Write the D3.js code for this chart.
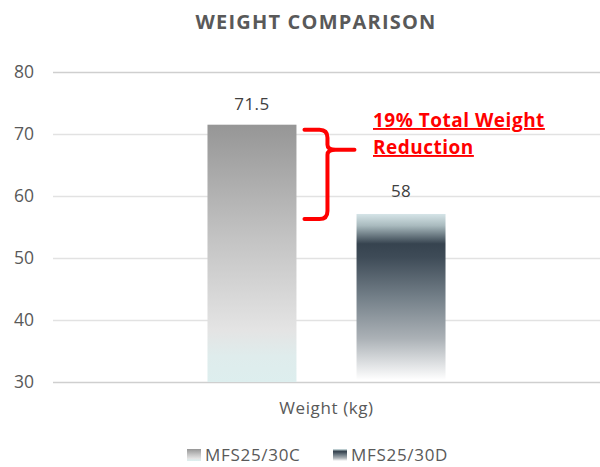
<!DOCTYPE html>
<html>
<head>
<meta charset="utf-8">
<script src="https://cdn.jsdelivr.net/npm/d3@7"></script>
<style>
  body { margin: 0; background: #fff; }
  svg { display: block; font-family: "Open Sans", sans-serif; }
</style>
</head>
<body>
<svg id="chart" width="600" height="467"></svg>
<script>
// data
const categories = ["Weight (kg)"];
const seriesNames = ["MFS25/30C", "MFS25/30D"];
const seriesValues = [71.5, 57.1];
const valueLabels = ["71.5", "58"];
const yTicks = [30, 40, 50, 60, 70, 80];
const annotationLines = ["19% Total Weight", "Reduction"];

const width = 600, height = 467;
const margin = {top: 72, right: 0, bottom: 85, left: 53};

const svg = d3.select("#chart");

// gradients
const defs = svg.append("defs");
const gradStops = [
    [[0, "#969696"], [0.45, "#c4c4c4"], [0.8, "#e4e4e4"], [0.9, "#dfecec"], [1, "#ddeeee"]],
    [[0, "#d5e4e7"], [0.07, "#a9babe"], [0.18, "#36434f"], [0.26, "#3e4b57"], [0.5, "#737f88"], [0.75, "#abb1b6"], [1, "#ffffff"]]
];
gradStops.forEach((stops, i) => {
    const g = defs.append("linearGradient")
        .attr("id", "grad" + i)
        .attr("x1", 0).attr("x2", 0).attr("y1", 0).attr("y2", 1);
    g.selectAll("stop").data(stops).join("stop")
        .attr("offset", d => d[0])
        .attr("stop-color", d => d[1]);
});

const y = d3.scaleLinear().domain([30, 80]).range([height - margin.bottom, margin.top]);
const x0 = d3.scaleBand().domain(categories).range([margin.left, width - margin.right]).paddingOuter(0.649);
const x1 = d3.scaleBand().domain(seriesNames).range([0, x0.bandwidth()]).paddingInner(0.403).paddingOuter(0);

// title
svg.append("text")
    .attr("x", 316).attr("y", 29)
    .attr("text-anchor", "middle")
    .attr("font-size", 20).attr("font-weight", "bold")
    .attr("letter-spacing", 1.2)
    .attr("fill", "#595959")
    .text("WEIGHT COMPARISON");

// gridlines + y labels
const yAxis = d3.axisLeft(y).tickValues(yTicks).tickSize(-(width - margin.left - margin.right)).tickPadding(19);
const gy = svg.append("g").attr("transform", `translate(${margin.left},0)`).call(yAxis);
gy.select(".domain").remove();
gy.selectAll(".tick line")
    .attr("stroke", d => d === 30 || d === 80 ? "#cfcfcf" : "#e2e2e2")
    .attr("stroke-width", 1.5);
gy.selectAll(".tick text")
    .attr("fill", "#595959").attr("font-size", 17.5)
    .attr("font-family", "Open Sans, sans-serif");

// bars
const bars = seriesNames.map((s, i) => ({name: s, value: seriesValues[i], label: valueLabels[i], i}));
const group = svg.append("g").attr("transform", `translate(${x0(categories[0])},0)`);
group.selectAll("rect").data(bars).join("rect")
    .attr("x", d => x1(d.name))
    .attr("width", x1.bandwidth())
    .attr("y", d => y(d.value))
    .attr("height", d => y(30) - y(d.value) - (d.i === 1 ? 2 : 0))
    .attr("fill", d => `url(#grad${d.i})`);

group.selectAll("text.val").data(bars).join("text")
    .attr("class", "val")
    .attr("x", d => x1(d.name) + x1.bandwidth() / 2)
    .attr("y", d => y(d.value) - 15 + (d.i === 1 ? -2 : 0))
    .attr("text-anchor", "middle")
    .attr("font-size", 17).attr("letter-spacing", 0.4).attr("fill", "#404040")
    .text(d => d.label);

// x-axis category label
svg.append("text")
    .attr("x", x0(categories[0]) + x0.bandwidth() / 2)
    .attr("y", y(30) + 32)
    .attr("text-anchor", "middle")
    .attr("font-size", 17).attr("letter-spacing", 0.6).attr("fill", "#595959")
    .text(categories[0]);

// brace annotation
const bx = x1(seriesNames[0]) + x1.bandwidth() + x0(categories[0]);
const yTop = y(seriesValues[0]) + 5, yBot = y(seriesValues[1]) + 5;
const yMid = yTop + 20;
const braceX = bx + 31;
const brace = d3.path();
brace.moveTo(bx + 8, yTop);
brace.lineTo(braceX - 8, yTop);
brace.quadraticCurveTo(braceX, yTop, braceX, yTop + 8);
brace.lineTo(braceX, yMid - 5);
brace.quadraticCurveTo(braceX, yMid, braceX + 8, yMid);
brace.lineTo(braceX + 27, yMid);
brace.moveTo(braceX + 8, yMid);
brace.quadraticCurveTo(braceX, yMid, braceX, yMid + 5);
brace.lineTo(braceX, yBot - 8);
brace.quadraticCurveTo(braceX, yBot, braceX - 8, yBot);
brace.lineTo(bx + 8, yBot);
svg.append("path")
    .attr("d", brace.toString())
    .attr("fill", "none").attr("stroke", "#ff0000")
    .attr("stroke-width", 4).attr("stroke-linecap", "round").attr("stroke-linejoin", "round");

svg.append("g").selectAll("text").data(annotationLines).join("text")
    .attr("x", 373)
    .attr("y", (d, i) => 127 + i * 27)
    .attr("font-size", 19).attr("font-weight", "bold")
    .attr("letter-spacing", 0.5)
    .attr("fill", "#ff0000")
    .attr("text-decoration", "underline")
    .text(d => d);

// legend
const legendX = [187, 333];
const legend = svg.append("g").selectAll("g").data(seriesNames).join("g")
    .attr("transform", (d, i) => `translate(${legendX[i]},449)`);
legend.append("rect")
    .attr("width", 14).attr("height", 12)
    .attr("fill", (d, i) => `url(#grad${i})`);
legend.append("text")
    .attr("x", 18).attr("y", 12)
    .attr("font-size", 17).attr("letter-spacing", 0.7).attr("fill", "#595959")
    .text(d => d);
</script>
</body>
</html>
